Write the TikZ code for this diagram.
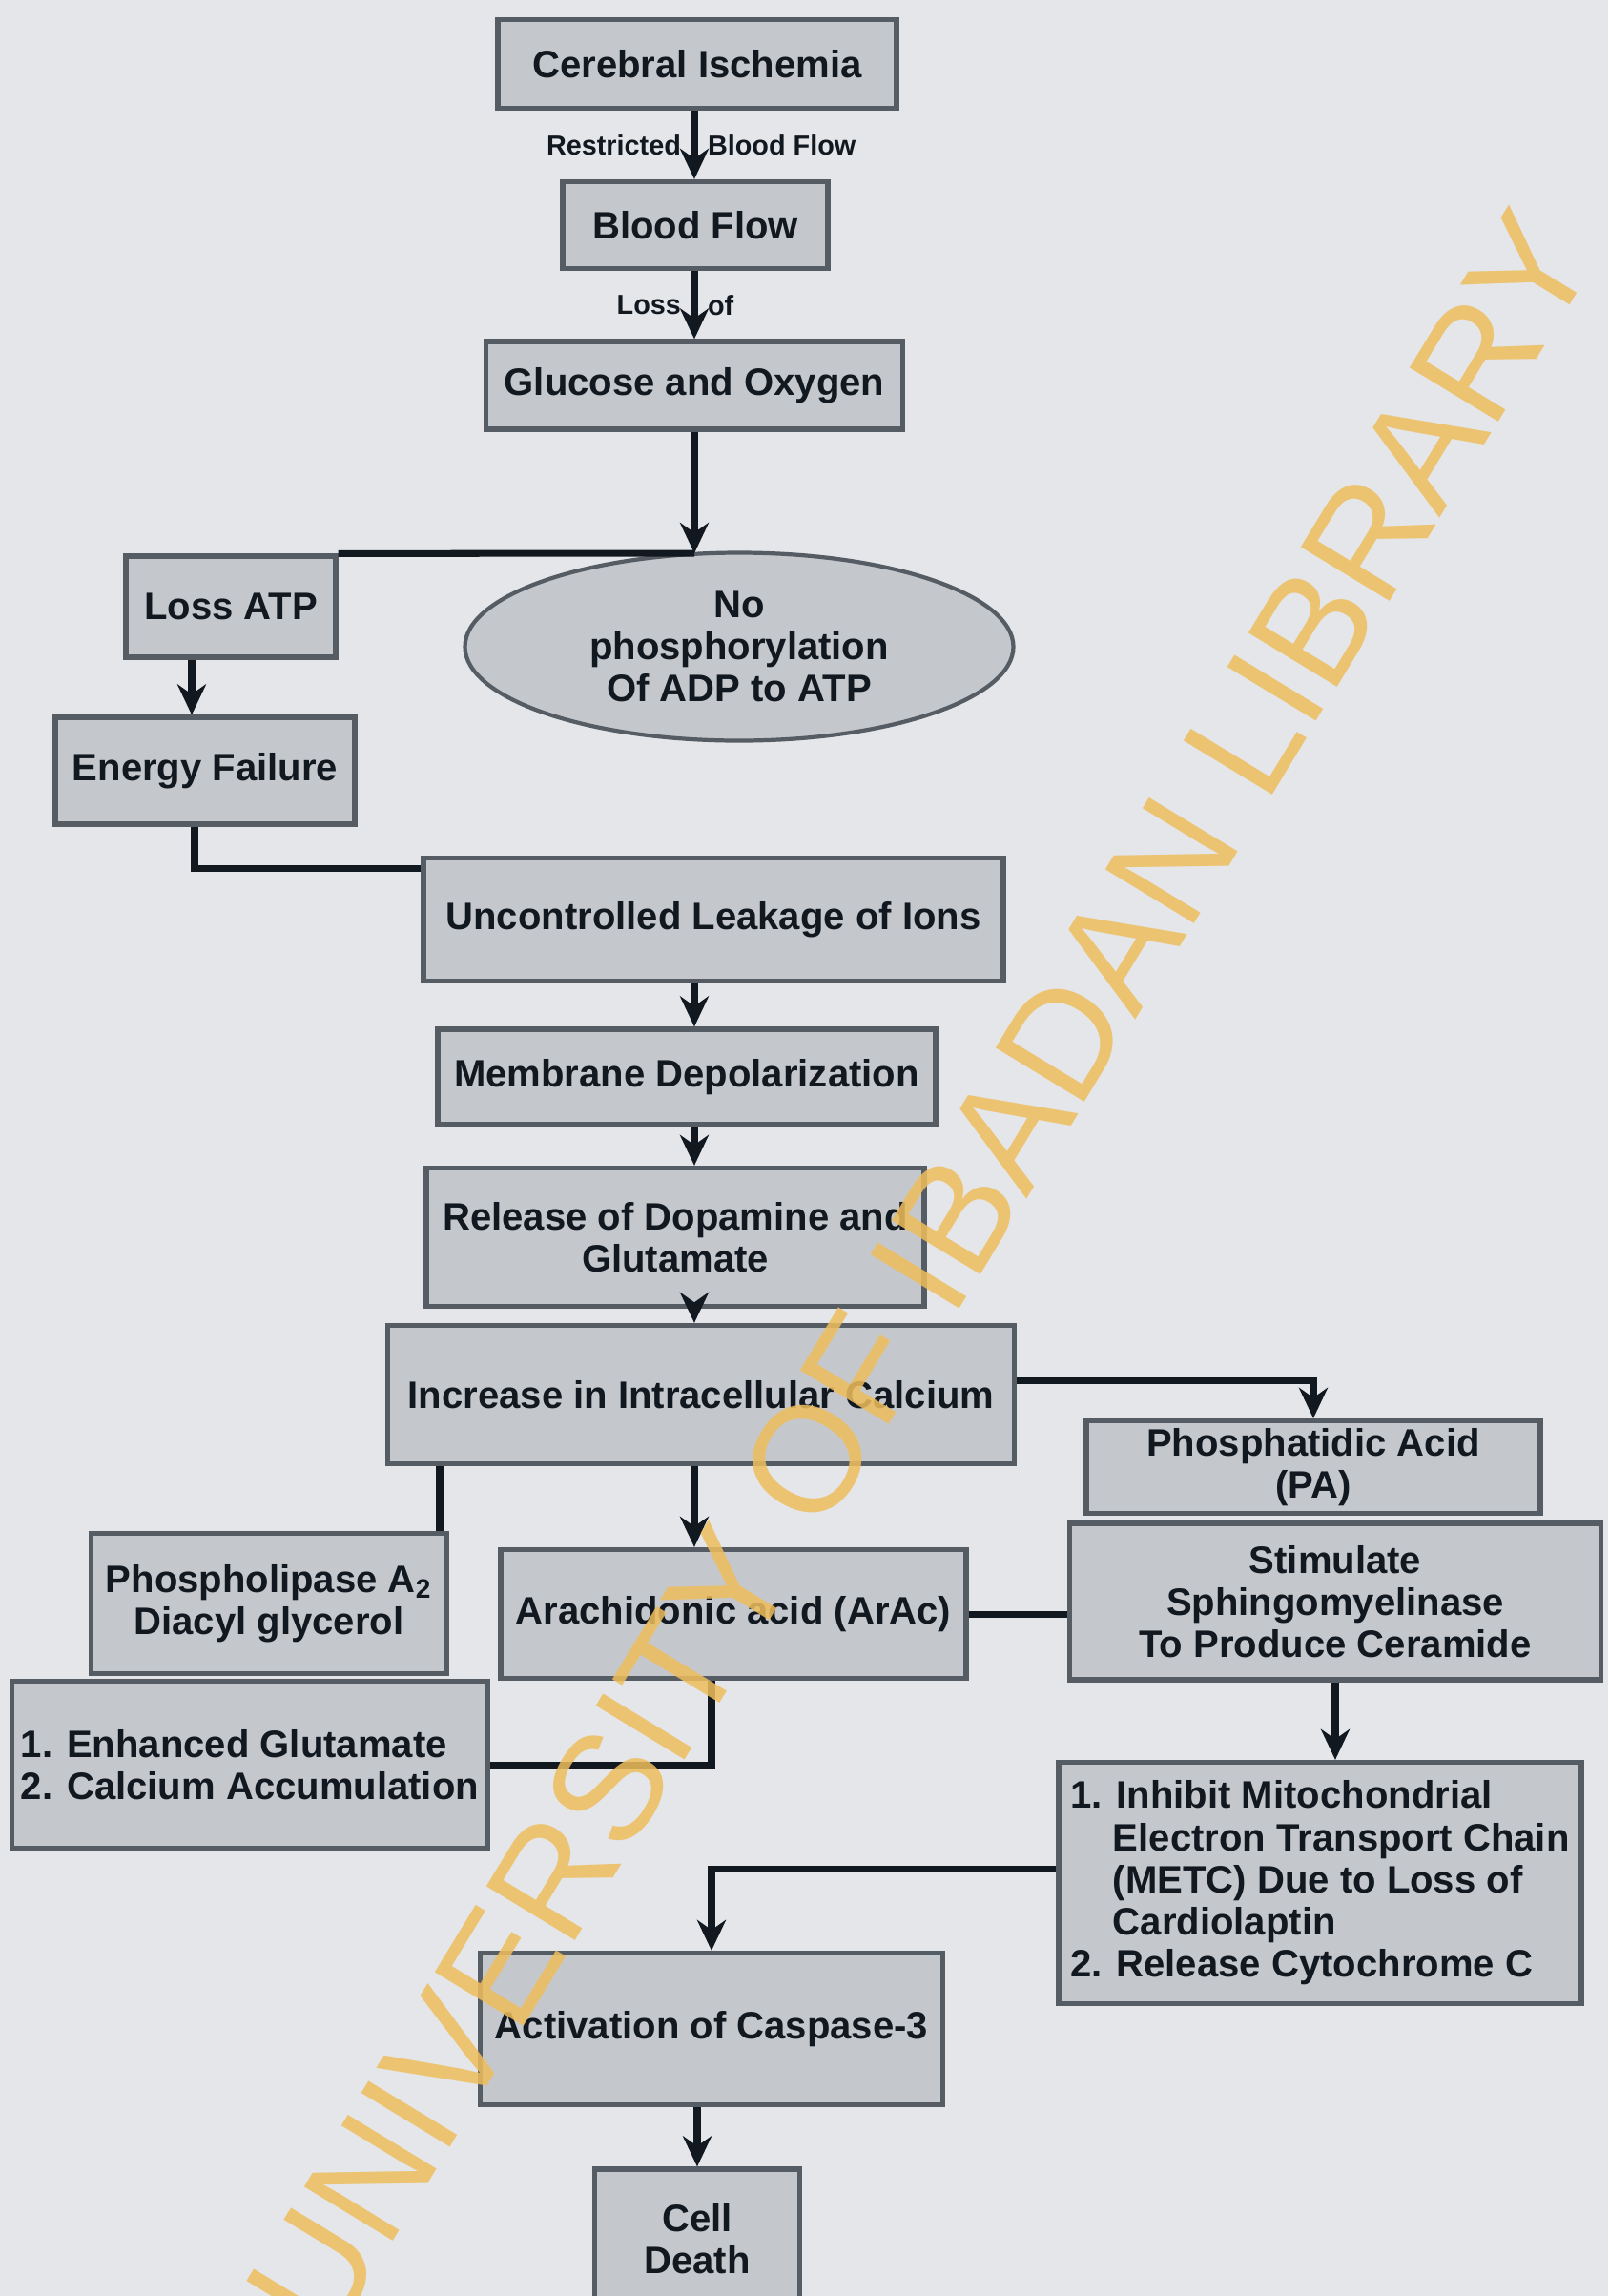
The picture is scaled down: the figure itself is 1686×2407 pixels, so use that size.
\documentclass[tikz,border=0pt]{standalone}
\usepackage{fontspec}
\setmainfont{Liberation Sans}
\usepackage{tikz}
\usetikzlibrary{shapes.geometric,arrows,arrows.meta,positioning,calc}
\usepackage{xcolor}
\definecolor{paper}{RGB}{228,230,234}
\definecolor{boxfill}{RGB}{196,200,205}
\definecolor{boxedge}{RGB}{86,92,99}
\definecolor{ink}{RGB}{18,24,32}
\definecolor{stamp}{RGB}{238,190,92}

\begin{document}
\begin{tikzpicture}[x=0.1mm,y=-0.1mm,
  box/.style={rectangle,draw=boxedge,fill=boxfill,line width=1.5pt,align=center,
              text=ink,font=\bfseries\fontsize{11.4}{12.6}\selectfont,inner sep=2pt},
  oval/.style={ellipse,draw=boxedge,fill=boxfill,line width=1.2pt,align=center,
              text=ink,font=\bfseries\fontsize{11.4}{12.6}\selectfont,inner sep=0pt},
  sz/.style 2 args={minimum width=#1mm,minimum height=#2mm},
  arr/.style={-{Stealth[length=3.2mm,width=3mm]},line width=2pt,draw=ink},
  wire/.style={line width=2pt,draw=ink},
  lbl/.style={font=\bfseries\fontsize{8.2}{9}\selectfont,text=ink,inner sep=3pt}
]
\useasboundingbox[fill=paper] (0,0) rectangle (1686,2407);
\coordinate (axis) at (728,0);

% main column
\node[box,sz={41.8}{9.3}] (cer)   at (731,67)  {Cerebral Ischemia};
\node[box,sz={27.8}{9.1}] (blood) at (729,236) {Blood Flow};
\node[box,sz={43.7}{9.2}] (glu)   at (728,404) {Glucose and Oxygen};
\node[box,sz={22.0}{10.6}] (loss) at (242,636) {Loss ATP};
\node[oval,sz={57.5}{19.7}] (ell) at (775,678) {No\\phosphorylation\\Of ADP to ATP};
\node[box,sz={31.4}{11.2}] (enf)  at (215,808) {Energy Failure};
\node[box,sz={60.8}{12.9}] (unc)  at (748,964) {Uncontrolled Leakage of Ions};
\node[box,sz={52.2}{10.0}] (memb) at (720,1129) {Membrane Depolarization};
\node[box,sz={52.2}{14.5}] (rel)  at (708,1297) {Release of Dopamine and\\Glutamate};
\node[box,sz={65.7}{14.5}] (calc) at (735,1462) {Increase in Intracellular Calcium};

% branches
\node[box,sz={47.6}{9.7}]  (pa)    at (1377,1538) {Phosphatidic Acid\\(PA)};
\node[box,sz={55.7}{16.4}] (stim)  at (1400,1679) {Stimulate\\Sphingomyelinase\\To Produce Ceramide};
\node[box,sz={37.3}{14.7}] (phos)  at (282,1681)  {Phospholipase A\textsubscript{2}\\Diacyl glycerol};
\node[box,sz={48.8}{13.5}] (arach) at (769,1692)  {Arachidonic acid (ArAc)};
\node[box,sz={49.9}{17.5},align=left] (enh) at (262,1850) {1. Enhanced Glutamate\\2. Calcium Accumulation};
\node[box,sz={54.8}{25.3},align=left] (inh) at (1384,1974)
  {1. Inhibit Mitochondrial\\\phantom{1.~}Electron Transport Chain\\\phantom{1.~}(METC) Due to Loss of\\\phantom{1.~}Cardiolaptin\\2. Release Cytochrome C};
\node[box,sz={48.5}{15.9}] (casp)  at (746,2127)  {Activation of Caspase-3};
\node[box,sz={21.5}{14.6}] (death) at (731,2347)  {Cell\\Death};

% connectors
\draw[arr] (cer.south -| axis) -- node[lbl,left]{Restricted} node[lbl,right]{Blood Flow} (blood.north -| axis);
\draw[arr] (blood.south -| axis) -- node[lbl,left]{Loss} node[lbl,right]{of} (glu.north -| axis);
\coordinate (split) at (728,580);
\draw[arr] (glu.south -| axis) -- (split);
\draw[wire] (split) -- (loss.north east);
\draw[arr] (loss.south -| 201,0) -- (enf.north -| 201,0);
\draw[wire] (enf.south -| 204,0) |- ([yshift=-4pt]unc.north west);
\draw[arr] (unc.south -| axis) -- (memb.north -| axis);
\draw[arr] (memb.south -| axis) -- (rel.north -| axis);
\draw[arr] (rel.south -| axis) -- (calc.north -| axis);
\draw[arr] ([yshift=4pt]calc.east) -| (pa.north);
\draw[wire] (calc.south -| 461,0) -- (phos.north -| 461,0);
\draw[arr] (calc.south -| axis) -- (arach.north -| axis);
\draw[wire] (arach.east) -- (arach.east -| stim.west);
\draw[wire] (arach.south -| casp) |- (enh.east);
\draw[arr] (stim.south) -- (inh.north -| stim.south);
\draw[arr] ([yshift=4pt]inh.west) -| (casp.north);
\draw[arr] (casp.south -| death) -- (death.north);

% watermark
\node[rotate=58.7,text=stamp,opacity=.85,font=\fontsize{45}{45}\selectfont] (mark) at (965,1335) {UNIVERSITY OF IBADAN LIBRARY};
\end{tikzpicture}
\end{document}
